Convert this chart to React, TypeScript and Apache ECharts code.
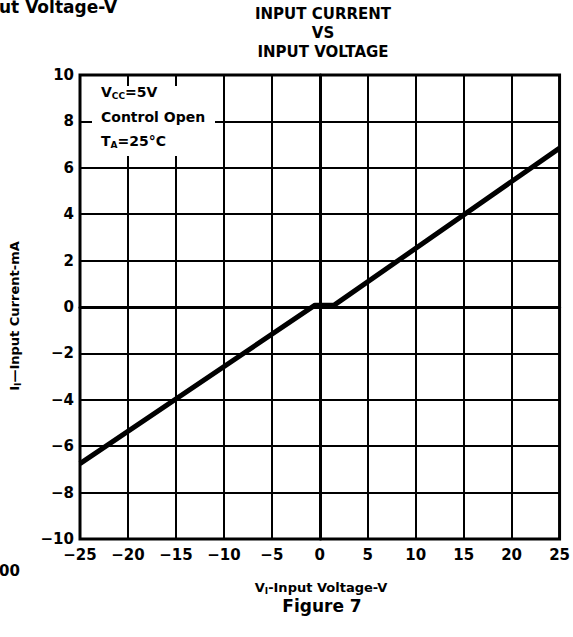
import React, { useEffect, useRef } from "react";
import * as echarts from "echarts";

// Data
const voltage: number[] = [-25, -0.5, 1.5, 25];
const current: number[] = [-6.75, 0.08, 0.08, 6.85];

const xMin = -25;
const xMax = 25;
const xStep = 5;
const yMin = -10;
const yMax = 10;
const yStep = 2;

const titleLines: string[] = ["INPUT CURRENT", "VS", "INPUT VOLTAGE"];
const conditionLines: string[] = ["V{sub|CC}=5V", "Control Open", "T{sub|A}=25\u00b0C"];
const xAxisName = "V{sub|I}-Input Voltage-V";
const yAxisName = "I{sub|I}\u2014Input Current-mA";
const figureLabel = "Figure 7";
const strayTop = "ut Voltage-V";
const strayLeft = "00";

const FONT = "DejaVu Sans";

const fmt = (v: number) => (v < 0 ? "\u2212" + Math.abs(v) : String(v));

export default function App() {
  const ref = useRef<HTMLDivElement>(null);
  useEffect(() => {
    if (!ref.current) return;
    const chart = echarts.init(ref.current, null, { renderer: "svg" });
    const subRich = {
      sub: { fontSize: 9, fontFamily: FONT, fontWeight: "bold", lineHeight: 9, verticalAlign: "bottom", fill: "#000" },
    };
    chart.setOption({
      animation: false,
      backgroundColor: "#fff",
      grid: {
        left: 80,
        right: 12,
        top: 75,
        bottom: 98,
        show: true,
        borderColor: "#000",
        borderWidth: 3,
      },
      xAxis: {
        type: "value",
        min: xMin,
        max: xMax,
        interval: xStep,
        axisLine: { show: true, lineStyle: { color: "#000", width: 3 } },
        axisTick: { show: false },
        splitLine: { show: true, lineStyle: { color: "#000", width: 2 } },
        axisLabel: {
          formatter: fmt,
          color: "#000",
          fontFamily: FONT,
          fontWeight: "bold",
          fontSize: 15,
          margin: 8,
        },
      },
      yAxis: {
        type: "value",
        min: yMin,
        max: yMax,
        interval: yStep,
        axisLine: { show: true, lineStyle: { color: "#000", width: 3 } },
        axisTick: { show: false },
        splitLine: { show: true, lineStyle: { color: "#000", width: 2 } },
        axisLabel: {
          formatter: fmt,
          color: "#000",
          fontFamily: FONT,
          fontWeight: "bold",
          fontSize: 15,
          margin: 6,
        },
      },
      series: [
        {
          type: "line",
          data: voltage.map((v, i) => [v, current[i]]),
          symbol: "none",
          lineStyle: { color: "#000", width: 5 },
          z: 5,
        },
      ],
      graphic: [
        {
          type: "rect",
          shape: { x: 92, y: 86, width: 123, height: 70 },
          style: { fill: "#fff" },
          z: 3,
        },
        ...conditionLines.map((t, i) => ({
          type: "text",
          x: 101,
          y: 92 + i * 24.5,
          z: 10,
          style: {
            text: t,
            fill: "#000",
            font: `bold 14px "${FONT}"`,
            verticalAlign: "middle",
            align: "left",
            lineHeight: 17,
            rich: subRich,
          },
        })),
        ...titleLines.map((t, i) => ({
          type: "text",
          x: 323,
          y: 14 + i * 19,
          z: 10,
          style: {
            text: t,
            fill: "#000",
            font: `bold 15px "${FONT}"`,
            align: "center",
            verticalAlign: "middle",
          },
        })),
        {
          type: "text",
          x: 321,
          y: 587,
          z: 10,
          style: {
            text: xAxisName,
            fill: "#000",
            font: `bold 13px "${FONT}"`,
            align: "center",
            verticalAlign: "middle",
            lineHeight: 16,
            rich: subRich,
          },
        },
        {
          type: "text",
          x: 14,
          y: 316,
          rotation: Math.PI / 2,
          z: 10,
          style: {
            text: yAxisName,
            fill: "#000",
            font: `bold 13px "${FONT}"`,
            align: "center",
            verticalAlign: "middle",
            lineHeight: 16,
            rich: subRich,
          },
        },
        {
          type: "text",
          x: 322,
          y: 606,
          z: 10,
          style: {
            text: figureLabel,
            fill: "#000",
            font: `bold 17px "${FONT}"`,
            align: "center",
            verticalAlign: "middle",
          },
        },
        {
          type: "text",
          x: -1,
          y: 7,
          z: 10,
          style: {
            text: strayTop,
            fill: "#000",
            font: `bold 17px "${FONT}"`,
            align: "left",
            verticalAlign: "middle",
          },
        },
        {
          type: "text",
          x: -1,
          y: 571,
          z: 10,
          style: {
            text: strayLeft,
            fill: "#000",
            font: `bold 15px "${FONT}"`,
            align: "left",
            verticalAlign: "middle",
          },
        },
      ],
    });
    return () => chart.dispose();
  }, []);
  return <div ref={ref} style={{ width: 573, height: 637, position: "absolute", left: 0, top: 0 }} />;
}
